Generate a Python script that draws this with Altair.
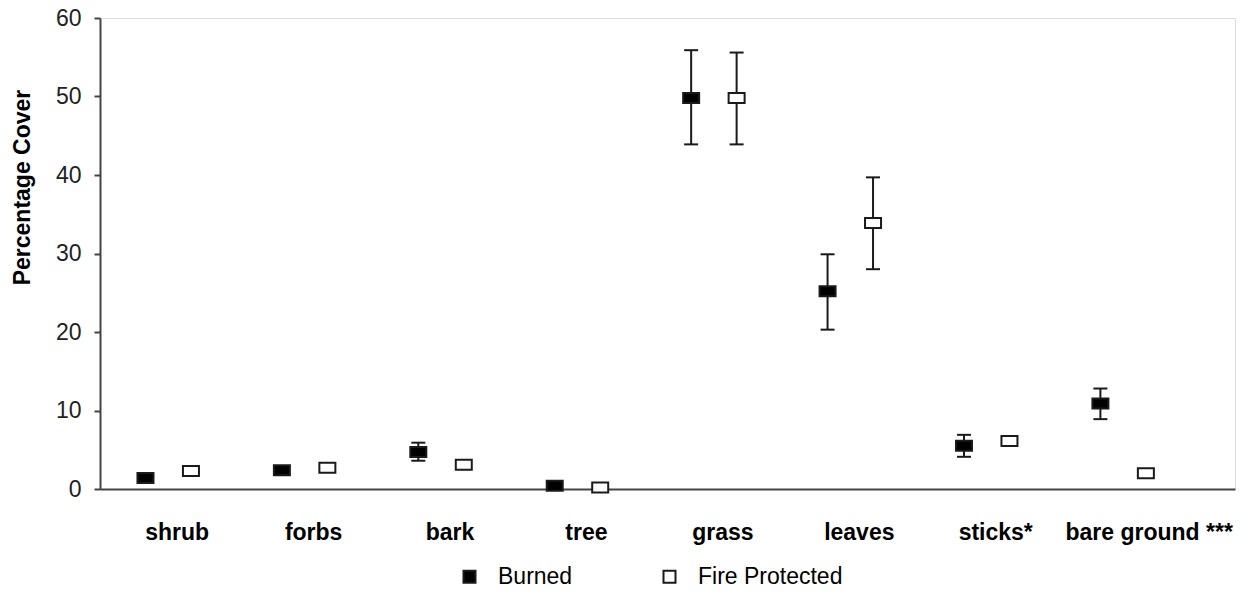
import altair as alt
import pandas as pd

categories = ["shrub", "forbs", "bark", "tree", "grass", "leaves", "sticks*", "bare ground ***"]
groups = ["Burned", "Fire Protected"]

burned = [1.4, 2.4, 4.7, 0.4, 49.8, 25.2, 5.5, 10.9]
burned_low = [None, None, 3.6, None, 43.9, 20.3, 4.1, 8.9]
burned_high = [None, None, 5.9, None, 55.9, 29.9, 6.9, 12.8]

protected = [2.3, 2.7, 3.1, 0.2, 49.8, 33.9, 6.1, 2.0]
protected_low = [None, None, None, None, 43.9, 28.0, None, None]
protected_high = [None, None, None, None, 55.6, 39.7, None, None]

rows = []
for i, c in enumerate(categories):
    rows.append(dict(category=c, group=groups[0], value=burned[i], low=burned_low[i], high=burned_high[i]))
    rows.append(dict(category=c, group=groups[1], value=protected[i], low=protected_low[i], high=protected_high[i]))
df = pd.DataFrame(rows)
err = df.dropna(subset=["low", "high"])

FONT = "Liberation Sans, Arial, sans-serif"
FS = 23
INK = "#1a1a1a"
AXIS = "#444444"

x_enc = alt.X(
    "category:N",
    sort=categories,
    scale=alt.Scale(paddingInner=0, paddingOuter=0.16, align=0),
    axis=alt.Axis(
        title=None, labelAngle=0, ticks=False, tickSize=0, labelPadding=50,
        labelBaseline="alphabetic", labelFont=FONT, labelFontSize=FS, labelFontWeight="bold",
        labelColor="black", domainColor=AXIS, domainWidth=2, labelLimit=300,
        labelOffset={"condition": {"test": "datum.label == 'bare ground ***'", "value": 26}, "value": 9},
    ),
)
xoff = alt.XOffset("group:N", sort=groups, scale=alt.Scale(paddingInner=0, paddingOuter=0.5))
y_scale = alt.Scale(domain=[0, 60], nice=False)

rules = alt.Chart(err).mark_rule(color=INK, strokeWidth=2).encode(
    x=x_enc, xOffset=xoff,
    y=alt.Y("low:Q", scale=y_scale),
    y2="high:Q",
)
cap_low = alt.Chart(err).mark_tick(color=INK, thickness=2, size=14, opacity=1, orient="horizontal").encode(
    x=x_enc, xOffset=xoff, y=alt.Y("low:Q", scale=y_scale)
)
cap_high = alt.Chart(err).mark_tick(color=INK, thickness=2, size=14, opacity=1, orient="horizontal").encode(
    x=x_enc, xOffset=xoff, y=alt.Y("high:Q", scale=y_scale)
)

points = alt.Chart(df).mark_point(
    shape="M-1,-0.625L1,-0.625L1,0.625L-1,0.625Z", size=256, filled=True,
    stroke=INK, strokeWidth=2, opacity=1,
).encode(
    x=x_enc, xOffset=xoff,
    y=alt.Y(
        "value:Q", scale=y_scale,
        axis=alt.Axis(
            title="Percentage Cover", values=[0, 10, 20, 30, 40, 50, 60], grid=False,
            tickSize=6, tickWidth=2, tickColor=AXIS, domainColor=AXIS, domainWidth=2,
            labelFont=FONT, labelFontSize=FS, labelColor="#222222", labelPadding=13,
            titleFont=FONT, titleFontSize=FS, titleFontWeight="bold", titleColor="black",
            titleX=-71, titleY=169, titleAngle=270, titleAlign="center", titleBaseline="alphabetic",
        ),
    ),
    fill=alt.Fill(
        "group:N", sort=groups,
        scale=alt.Scale(domain=groups, range=["black", "white"]),
        legend=alt.Legend(
            title=None, orient="none", direction="horizontal", legendX=358, legendY=547,
            symbolType="square", symbolSize=144, symbolStrokeColor=INK, symbolStrokeWidth=2,
            labelFont=FONT, labelFontSize=FS, labelColor="black", labelOffset=17,
            columnPadding=85, padding=0,
        ),
    ),
)

chart = alt.layer(rules, cap_low, cap_high, points).properties(
    width=1135, height=471,
    autosize=alt.AutoSizeParams(type="none"),
    padding={"left": 100, "top": 18, "right": 17, "bottom": 106},
).configure_view(stroke=None).configure(background="white")

chart.save("out.html", embed_options={"renderer": "svg", "actions": False})
